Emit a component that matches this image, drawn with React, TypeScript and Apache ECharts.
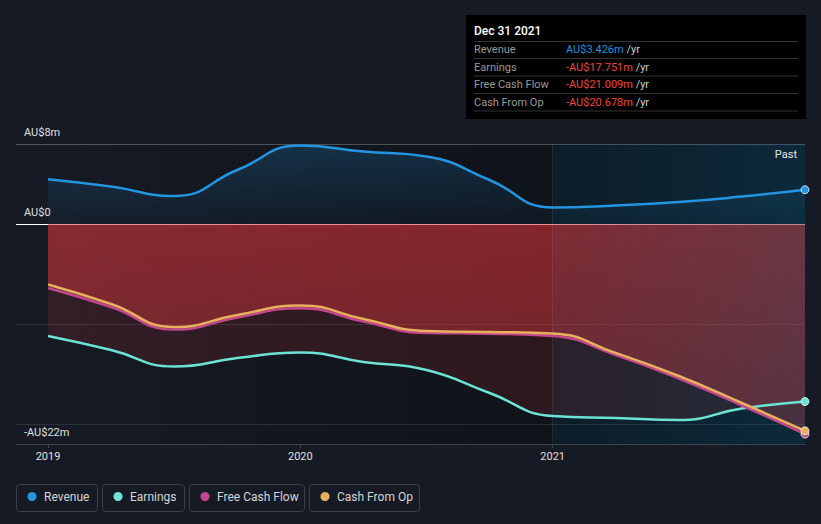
import React, { useEffect, useRef } from 'react';
import * as echarts from 'echarts';

// ---- data (quarter ends, decimal years: 2019 = Dec 31 2018) ----
const dates = [2019, 2019.25, 2019.5, 2019.75, 2020, 2020.25, 2020.5, 2020.75, 2021, 2021.25, 2021.5, 2021.75, 2022];
const revenue = [4.48, 3.75, 2.8, 5.4, 7.85, 7.25, 6.75, 4.4, 1.65, 1.85, 2.2, 2.75, 3.426];
const earnings = [-11.2, -12.6, -14.25, -13.4, -12.85, -13.8, -14.6, -16.9, -19.2, -19.4, -19.6, -18.45, -17.751];
const freeCashFlow = [-6.4, -8.3, -10.55, -9.35, -8.42, -9.75, -10.9, -10.97, -11.2, -13.1, -15.45, -18.15, -21.009];
const cashFromOp = [-6.05, -8.0, -10.3, -9.1, -8.15, -9.5, -10.7, -10.8, -10.95, -12.9, -15.2, -17.9, -20.678];
const yLabelValues = [8, 0, -22];
const gridValues = [8, -10, -20];
const yearTicks = [2019, 2020, 2021];
const pastStart = 2021;
const seriesNames = ['Revenue', 'Earnings', 'Free Cash Flow', 'Cash From Op'];
const tooltipTitle = 'Dec 31 2021';

const COLORS = ['#2394df', '#6ce3d4', '#c2478c', '#e8b05e'];
const FONT = 'Roboto, "Noto Sans", sans-serif';
const X_MIN = 2018.873;
const X_MAX = 2022;
const SMOOTH = 0.5;

const toXY = (vals: number[]) => vals.map((v, i) => [dates[i], v]);
const fmtMoney = (v: number) => (v === 0 ? 'AU$0' : v < 0 ? `-AU$${Math.abs(v)}m` : `AU$${v}m`);
const fmtMoney3 = (v: number) => (v < 0 ? `-AU$${Math.abs(v).toFixed(3)}m` : `AU$${v.toFixed(3)}m`);

const vGrad = (stops: [number, string][]) => ({
  type: 'linear', x: 0, y: 0, x2: 0, y2: 1,
  colorStops: stops.map(([offset, color]) => ({ offset, color })),
});
const hGrad = (stops: [number, string][]) => ({
  type: 'linear', x: 0, y: 0, x2: 1, y2: 0,
  colorStops: stops.map(([offset, color]) => ({ offset, color })),
});

function buildOption() {
  const allVals = [revenue, earnings, freeCashFlow, cashFromOp];

  const areaColors = [
    vGrad([[0, 'rgba(35,148,223,0.30)'], [1, 'rgba(35,148,223,0.05)']]),
    'rgba(225,55,60,0.20)',
    vGrad([[0, 'rgba(225,55,60,0.40)'], [1, 'rgba(225,55,60,0.26)']]),
    vGrad([[0, 'rgba(225,55,60,0.40)'], [1, 'rgba(225,55,60,0.26)']]),
  ];

  const areaSeries = allVals.map((vals, i) => ({
    type: 'line',
    name: seriesNames[i] + ' area',
    data: toXY(vals),
    smooth: SMOOTH,
    symbol: 'none',
    silent: true,
    lineStyle: { width: 0 },
    areaStyle: { color: areaColors[i], origin: 0 },
    z: 1,
  }));

  const lineSeries = allVals.map((vals, i) => {
    const data: any[] = toXY(vals);
    const last = data.length - 1;
    data[last] = {
      value: data[last],
      symbol: 'circle',
      symbolSize: 8,
      itemStyle: { color: COLORS[i], borderColor: 'rgba(255,255,255,0.75)', borderWidth: 1 },
    };
    return {
      type: 'line',
      name: seriesNames[i],
      data,
      smooth: SMOOTH,
      symbol: 'none',
      showSymbol: true,
      silent: true,
      lineStyle: { width: 2.5, color: COLORS[i] },
      itemStyle: { color: COLORS[i] },
      z: 3,
    };
  });

  const underLayer = {
    type: 'line',
    name: 'under',
    data: [[dates[0], 0]],
    symbol: 'none',
    lineStyle: { width: 0 },
    silent: true,
    z: 0,
    markArea: {
      silent: true,
      z: 0,
      data: [
        [
          { xAxis: X_MIN, itemStyle: { color: hGrad([[0, 'rgba(0,0,0,0)'], [0.06, 'rgba(0,0,0,0)'], [1, 'rgba(0,0,0,0.3)']]) } },
          { xAxis: pastStart },
        ],
        [
          { xAxis: pastStart, itemStyle: { color: hGrad([[0, 'rgba(0,25,38,0.45)'], [1, 'rgba(0,25,38,0.8)']]) } },
          { xAxis: X_MAX },
        ],
      ],
    },
    markLine: {
      silent: true,
      z: 0,
      symbol: ['none', 'none'],
      label: { show: false },
      data: [
        ...gridValues.map((v, k) => ({
          yAxis: v,
          lineStyle: { color: k === 0 ? 'rgba(255,255,255,0.25)' : 'rgba(255,255,255,0.1)', width: 1, type: 'solid' },
        })),
        { yAxis: 0, lineStyle: { color: '#ffffff', width: 1.2, type: 'solid' } },
      ],
    },
  };

  const overLayer = {
    type: 'line',
    name: 'over',
    data: [[dates[0], 0]],
    symbol: 'none',
    lineStyle: { width: 0 },
    silent: true,
    z: 2,
    markArea: {
      silent: true,
      z: 2,
      label: {
        show: true,
        position: 'insideTopRight',
        color: '#e6e6e6',
        fontSize: 11,
        fontFamily: FONT,
        offset: [-3, 0],
      },
      data: [
        [
          {
            name: 'Past',
            xAxis: pastStart,
            itemStyle: { color: hGrad([[0, 'rgba(40,100,130,0.04)'], [1, 'rgba(40,100,130,0.22)']]) },
          },
          { xAxis: X_MAX },
        ],
      ],
    },
    markLine: {
      silent: true,
      z: 2,
      symbol: ['none', 'none'],
      label: { show: false },
      data: [{ xAxis: pastStart, lineStyle: { color: 'rgba(255,255,255,0.08)', width: 1, type: 'solid' } }],
    },
  };

  // tooltip-like panel
  const panelX = 466, panelY = 15, panelW = 340, panelH = 104;
  const rowY = [49.5, 67, 84.5, 102];
  const sepY = [41.5, 58.5, 76, 93.5, 111];
  const panel: any[] = [
    { type: 'rect', shape: { x: panelX, y: panelY, width: panelW, height: panelH }, style: { fill: '#000000' }, z: 100 },
    {
      type: 'text', x: 474, y: 31, z: 101,
      style: { text: tooltipTitle, fill: '#ffffff', fontSize: 12, fontWeight: 500, fontFamily: FONT, verticalAlign: 'middle' },
    },
    ...sepY.map((y) => ({
      type: 'line', z: 101,
      shape: { x1: 474, y1: y, x2: 798, y2: y },
      style: { stroke: '#333333', lineWidth: 1 },
    })),
  ];
  allVals.forEach((vals, i) => {
    const v = vals[vals.length - 1];
    panel.push({
      type: 'text', x: 474, y: rowY[i], z: 101,
      style: { text: seriesNames[i], fill: '#9a9a9a', fontSize: 11, fontFamily: FONT, verticalAlign: 'middle' },
    });
    panel.push({
      type: 'text', x: 566, y: rowY[i], z: 101,
      style: {
        text: `{v|${fmtMoney3(v)}} {u|/yr}`,
        verticalAlign: 'middle',
        fontSize: 11,
        fontFamily: FONT,
        rich: {
          v: { fill: i === 0 ? '#2394df' : '#f0463c', fontSize: 11, fontFamily: FONT },
          u: { fill: '#cfcfcf', fontSize: 11, fontFamily: FONT },
        },
      },
    });
  });

  // legend boxes
  const legendBoxes = [
    { x: 16.5, w: 81 },
    { x: 102.5, w: 82 },
    { x: 189.5, w: 115 },
    { x: 309.5, w: 110 },
  ];
  const legend: any[] = [];
  legendBoxes.forEach((b, i) => {
    legend.push({
      type: 'rect', z: 100,
      shape: { x: b.x, y: 484.5, width: b.w, height: 27, r: 3 },
      style: { fill: 'none', stroke: '#3b404a', lineWidth: 1 },
    });
    legend.push({
      type: 'circle', z: 101,
      shape: { cx: b.x + 15.5, cy: 496.5, r: 4.5 },
      style: { fill: COLORS[i] },
    });
    legend.push({
      type: 'text', x: b.x + 27.5, y: 496.5, z: 101,
      style: { text: seriesNames[i], fill: '#d6d6d6', fontSize: 12, fontFamily: FONT, verticalAlign: 'middle' },
    });
  });

  return {
    animation: false,
    backgroundColor: '#151a24',
    textStyle: { fontFamily: FONT },
    grid: { left: 16, right: 16, top: 144, bottom: 80, containLabel: false },
    xAxis: {
      type: 'value',
      min: X_MIN,
      max: X_MAX,
      splitLine: { show: false },
      axisLine: { show: true, onZero: false, lineStyle: { color: '#3e434c', width: 1 } },
      axisTick: { show: true, customValues: yearTicks, length: 4, lineStyle: { color: '#3e434c' } },
      axisLabel: {
        customValues: yearTicks,
        formatter: (v: number) => String(Math.round(v)),
        color: '#e0e0e0',
        fontSize: 11,
        margin: 7,
        fontFamily: FONT,
      },
    },
    yAxis: {
      type: 'value',
      min: -22,
      max: 8,
      splitLine: { show: false },
      axisLine: { show: false },
      axisTick: { show: false },
      axisLabel: {
        inside: true,
        customValues: yLabelValues,
        formatter: (v: number) => fmtMoney(v),
        color: '#e0e0e0',
        fontSize: 11,
        margin: 8,
        verticalAlign: 'bottom',
        lineHeight: 23,
        fontFamily: FONT,
      },
    },
    series: [underLayer, ...areaSeries, overLayer, ...lineSeries],
    graphic: [...panel, ...legend],
  };
}

export default function App() {
  const ref = useRef<HTMLDivElement>(null);
  useEffect(() => {
    document.body.style.margin = '0';
    document.body.style.background = '#151a24';
    const chart = echarts.init(ref.current!, null, { renderer: 'svg' });
    chart.setOption(buildOption() as any);
    return () => chart.dispose();
  }, []);
  return <div ref={ref} style={{ width: 821, height: 524 }} />;
}
